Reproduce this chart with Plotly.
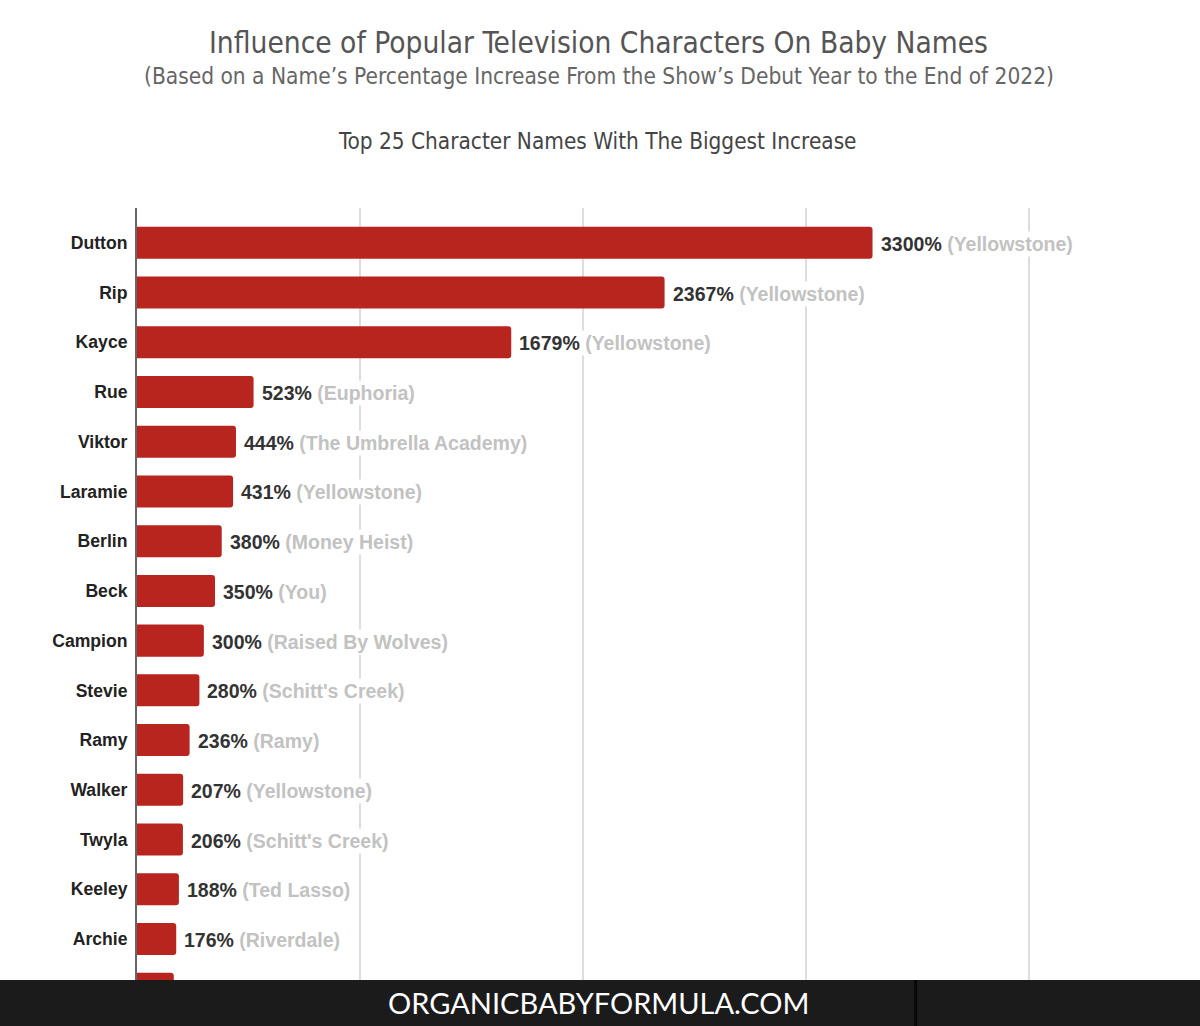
import plotly.graph_objects as go

names = ["Dutton", "Rip", "Kayce", "Rue", "Viktor", "Laramie", "Berlin", "Beck",
         "Campion", "Stevie", "Ramy", "Walker", "Twyla", "Keeley", "Archie", " "]
values = [3300, 2367, 1679, 523, 444, 431, 380, 350, 300, 280, 236, 207, 206, 188, 176, 165]
shows = ["Yellowstone", "Yellowstone", "Yellowstone", "Euphoria", "The Umbrella Academy",
         "Yellowstone", "Money Heist", "You", "Raised By Wolves", "Schitt's Creek", "Ramy",
         "Yellowstone", "Schitt's Creek", "Ted Lasso", "Riverdale", ""]
x_ticks = [0, 1000, 2000, 3000, 4000]

title = "Influence of Popular Television Characters On Baby Names"
subtitle = "(Based on a Name’s Percentage Increase From the Show’s Debut Year to the End of 2022)"
chart_sub = "Top 25 Character Names With The Biggest Increase"
banner = "ORGANICBABYFORMULA.COM"

W, H = 1200, 1026
ML, MR, MT, MB = 137, 59.5, 208, 0
PW = W - ML - MR
PH = H - MT - MB

fig = go.Figure()
fig.add_trace(go.Bar(
    x=values, y=names, orientation="h",
    marker=dict(color="#b8241e", cornerradius=3, line=dict(width=0)),
    hoverinfo="skip",
))

annotations = []
for n, v, s in zip(names, values, shows):
    if not s:
        continue
    annotations.append(dict(
        x=v, y=n, xref="x", yref="y", xanchor="left", yanchor="middle",
        xshift=6, yshift=-1, showarrow=False, bgcolor="white", borderpad=1,
        text=f"<b>{v}%</b> <span style='color:#c2c2c2'><b>({s})</b></span>",
        font=dict(family="Liberation Sans, Arial", size=19.5, color="#333333"),
    ))

def py(ypx):
    return (H - MB - ypx) / PH

def px(xpx):
    return (xpx - ML) / PW

TF = "DejaVu Sans Condensed, DejaVu Sans"
annotations += [
    dict(x=px(599), y=py(43), xref="paper", yref="paper", showarrow=False,
         text=title, font=dict(family=TF, size=29.6, color="#555555"),
         xanchor="center", yanchor="middle"),
    dict(x=px(599), y=py(76), xref="paper", yref="paper", showarrow=False,
         text=subtitle, font=dict(family=TF, size=22.5, color="#666666"),
         xanchor="center", yanchor="middle"),
    dict(x=px(598), y=py(141), xref="paper", yref="paper", showarrow=False,
         text=chart_sub, font=dict(family=TF, size=22.4, color="#444444"),
         xanchor="center", yanchor="middle"),
    dict(x=px(599), y=py(1002), xref="paper", yref="paper", showarrow=False,
         text=banner, font=dict(family="Lato", size=29, color="#ffffff"),
         xanchor="center", yanchor="middle"),
]

shapes = [
    dict(type="rect", xref="paper", yref="paper", x0=px(-5), x1=px(1205), y0=py(1030), y1=py(980),
         fillcolor="#1b1b1b", line=dict(width=0), layer="above"),
    dict(type="line", xref="paper", yref="paper", x0=px(916), x1=px(916), y0=py(1030), y1=py(980),
         line=dict(color="#080808", width=3), layer="above"),
]

fig.update_layout(
    width=W, height=H,
    margin=dict(l=ML, r=MR, t=MT, b=MB, pad=0),
    paper_bgcolor="white", plot_bgcolor="white",
    bargap=0.356, showlegend=False,
    annotations=annotations, shapes=shapes,
    xaxis=dict(range=[0, 4500], tickvals=x_ticks, showticklabels=False,
               showgrid=True, gridcolor="#dddddd", gridwidth=2, zeroline=False,
               showline=False, fixedrange=True),
    yaxis=dict(type="category", categoryorder="array", categoryarray=names,
               range=[15.75, -0.70], autorange=False,
               showline=True, linecolor="#666666", linewidth=2,
               ticks="outside", ticklen=4, tickcolor="rgba(0,0,0,0)",
               tickfont=dict(family="Liberation Sans, Arial", size=17.6, color="#222222", weight="bold"),
               showgrid=False, fixedrange=True),
)

fig.write_html("out.html", config={"displayModeBar": False, "staticPlot": True},
               post_script="document.body.style.margin='0';document.body.style.overflow='hidden';")
